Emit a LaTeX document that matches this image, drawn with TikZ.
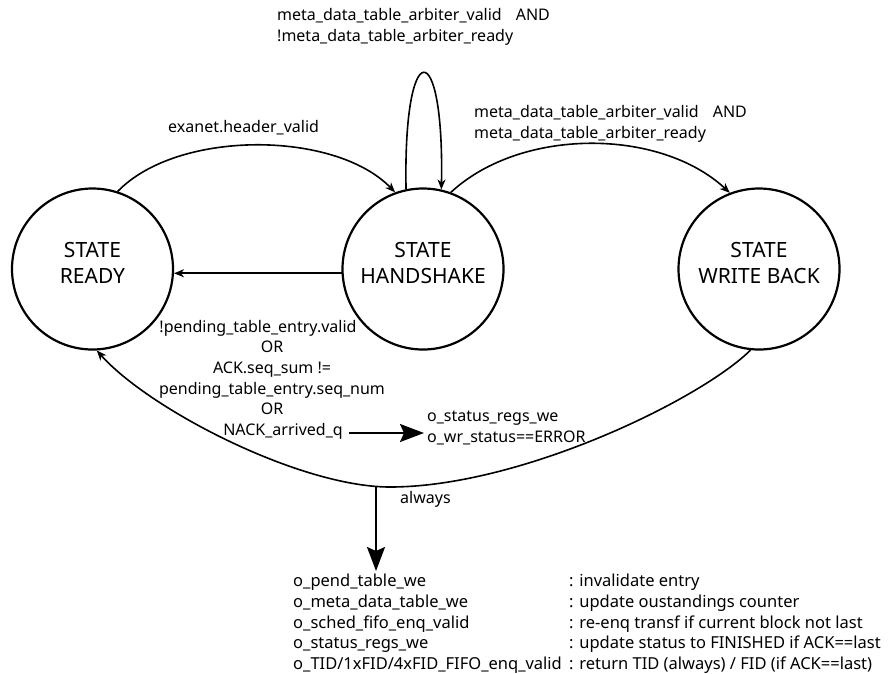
\documentclass[tikz,border=0pt]{standalone}
\usepackage{fontspec}
\setmainfont{Noto Sans}
\usetikzlibrary{arrows.meta}
\begin{document}
\begin{tikzpicture}[x=1pt,y=-1pt,
  state/.style={circle, draw, line width=2.2pt, minimum size=161pt, inner sep=0pt},
  statetext/.style={font=\fontsize{21}{26}\selectfont, align=center, inner sep=0pt, anchor=north, yshift=30.2pt},
  lbl/.style={font=\fontsize{16}{20.6}\selectfont, inner sep=0pt},
  trans/.style={line width=1.6pt, -{Stealth[length=10pt,width=8pt,inset=3pt]}},
  bigarrow/.style={line width=2pt, -{Stealth[length=24pt,width=18pt,inset=4pt]}}]
\path[use as bounding box] (0,0) rectangle (890,673);

% states
\node[state] (ready) at (92.5,269) {};
\node[state] (hs) at (423,269) {};
\node[state] (wb) at (759,269) {};
\node[statetext] (readytxt) at (ready.center) {\strut STATE\\READY};
\node[statetext] (hstxt) at (hs.center) {\strut STATE\\HANDSHAKE};
\node[statetext] (wbtxt) at (wb.center) {\strut STATE\\WRITE BACK};

% transitions between states
\draw[trans] (ready.72) .. controls +(60,-62) and +(-60,-62) .. (hs.110);
\draw[trans] (hs.183) -- (ready.-3);
\draw[trans] (hs.102) .. controls +(-3,-155) and +(3,-155) .. (hs.77);
\draw[trans] (hs.70) .. controls +(70,-65) and +(-70,-65) .. (wb.111);
\coordinate (arcbot) at (390,487);
\draw[trans] (wb.264) .. controls (700,400) and (520,487) .. (arcbot)
  .. controls (300,487) and (150,410) .. (ready.273);

% transition conditions
\node[lbl, anchor=base west] (lhdr) at (168,132) {exanet.header\_valid};
\node[lbl, anchor=north west, align=left] (lloop) at (277,6.3)
  {\strut meta\_data\_table\_arbiter\_valid\hspace*{14pt}AND\\!meta\_data\_table\_arbiter\_ready};
\node[lbl, anchor=north west, align=left] (lwb) at (474,102.9)
  {\strut meta\_data\_table\_arbiter\_valid\hspace*{14pt}AND\\meta\_data\_table\_arbiter\_ready};
\node[lbl, anchor=north, align=center] (lcond) at (272,317.6)
  {\strut!pending\_table\_entry.valid\hspace*{28pt}\\OR\\ACK.seq\_sum !=\\pending\_table\_entry.seq\_num\\OR\\\hspace*{22pt}NACK\_arrived\_q};
\node[lbl, anchor=north west, align=left] (lerr) at (427,407.3)
  {\strut o\_status\_regs\_we\\o\_wr\_status==ERROR};
\node[lbl, anchor=base west] (lalw) at (400,503) {always};

% outputs
\coordinate (nackend) at (349,433);
\coordinate (errtip) at (424,433);
\draw[bigarrow] (nackend) -- (errtip);
\coordinate (alwtop) at (376,486);
\coordinate (alwtip) at (376,571);
\draw[bigarrow] (alwtop) -- (alwtip);

\node[anchor=north west, inner sep=0pt, font=\fontsize{16.5}{20.6}\selectfont] (outs) at (293,572.3)
  {\begin{tabular}{@{}p{276pt}@{}l@{}}
   o\_pend\_table\_we & : invalidate entry\\
   o\_meta\_data\_table\_we & : update oustandings counter\\
   o\_sched\_fifo\_enq\_valid & : re-enq transf if current block not last\\
   o\_status\_regs\_we & : update status to FINISHED if ACK==last\\
   o\_TID/1xFID/4xFID\_FIFO\_enq\_valid & : return TID (always) / FID (if ACK==last)
   \end{tabular}};
\end{tikzpicture}
\end{document}
